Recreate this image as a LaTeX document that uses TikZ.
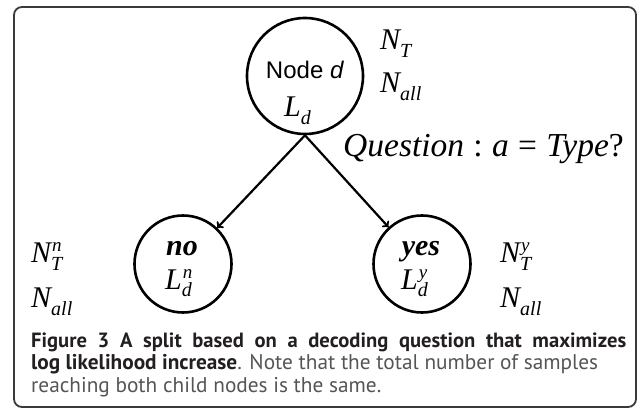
\documentclass[tikz,border=0pt]{standalone}
\usepackage{fontspec}
\usetikzlibrary{positioning}
\newfontfamily\arialfont{Liberation Sans}
\newfontfamily\timesfont{Liberation Serif}
\newfontfamily\capfont{PT Sans}
\definecolor{framegray}{HTML}{3A3A3A}
\definecolor{capdark}{HTML}{231F20}
\definecolor{capgray}{HTML}{555555}
% base letter with superscript and subscript stacked
\newcommand\symb[3]{#1\rlap{\raisebox{11pt}{\fontsize{19}{19}\selectfont\kern1pt#2}}\raisebox{-8pt}{\fontsize{20}{20}\selectfont#3}}

\begin{document}
\begin{tikzpicture}[x=1pt,y=-1pt,
	bubble/.style={draw,circle,line width=2.6pt,inner sep=0pt},
	mathtxt/.style={font=\timesfont\itshape\fontsize{30}{30}\selectfont,inner sep=0pt,anchor=base west},
	capline/.style={font=\capfont\fontsize{21.3}{22}\selectfont,inner sep=0pt,anchor=base west}]
			\useasboundingbox (0,0) rectangle (638,409);
			\draw[framegray,line width=1.8pt,rounded corners=8pt] (14,7) rectangle (636,407);
			% nodes of the split
			\node[bubble,minimum size=116pt] (parent) at (305,76) {};
			\node[bubble,minimum size=97pt] (no) at (183,264) {};
			\node[bubble,minimum size=97pt] (yes) at (422,264) {};
			\node[font=\arialfont\fontsize{24}{24}\selectfont,inner sep=0pt] (ptitle) at (305,70) {Node \textit{d}};
			\node[mathtxt] (pL) at (284,117) {\symb{L}{}{d}};
			\node[mathtxt,font=\timesfont\bfseries\itshape\fontsize{30}{30}\selectfont,anchor=base] (notitle) at (182,255) {no};
			\node[mathtxt] (noL) at (165,289) {\symb{L}{n}{d}};
			\node[mathtxt,font=\timesfont\bfseries\itshape\fontsize{30}{30}\selectfont,anchor=base] (yestitle) at (421,255) {yes};
			\node[mathtxt] (yesL) at (401,289) {\symb{L}{y}{d}};
			% counts beside the nodes
			\node[mathtxt] (pNT) at (380,50) {\symb{N}{}{T}};
			\node[mathtxt] (pNall) at (380,93) {\symb{N}{}{all}};
			\node[mathtxt] (noNT) at (31,262) {\symb{N}{n}{T}};
			\node[mathtxt] (noNall) at (31,307) {\symb{N}{}{all}};
			\node[mathtxt] (yesNT) at (500,262) {\symb{N}{y}{T}};
			\node[mathtxt] (yesNall) at (500,307) {\symb{N}{}{all}};
			\node[mathtxt,font=\timesfont\fontsize{33.5}{33.5}\selectfont] (question) at (343,157) {\textit{Question}\;:\;\textit{a}\;=\;\textit{Type}?};
			% the split
			\draw[line width=2.2pt,->] (parent.south) -- (no);
			\draw[line width=2.2pt,->] (parent.south) -- (yes);
			% caption
			\node[capline,capdark,font=\capfont\fontsize{20.6}{22}\selectfont] (cap1) at (31,347) {\makebox[595pt][s]{\bfseries Figure 3 A split based on a decoding question that maximizes}};
			\node[capline,capgray] (cap2) at (31,369) {{\color{capdark}\bfseries log likelihood increase}. Note that the total number of samples};
			\node[capline,capgray] (cap3) at (31,392) {reaching both child nodes is the same.};
\end{tikzpicture}
\end{document}
